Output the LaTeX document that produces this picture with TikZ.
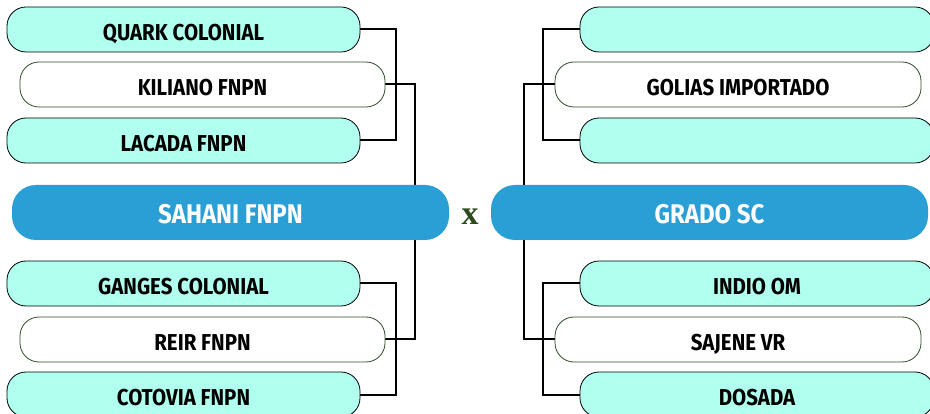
\documentclass[tikz,border=0pt]{standalone}
\usepackage{fontspec}
\setmainfont{Fira Sans}[FakeStretch=0.89]
\newfontfamily\xfont{Liberation Serif}
\definecolor{aquafill}{HTML}{B1FFEF}
\definecolor{bluefill}{HTML}{2A9FD6}
\definecolor{dkgreen}{HTML}{2E4D24}
\definecolor{xgreen}{HTML}{2E4A1E}
\pgfdeclarelayer{background}
\pgfsetlayers{background,main}
\tikzset{
  pill/.style={rectangle, rounded corners=19pt, minimum height=45pt, inner sep=0pt,
    text height=22pt, text depth=0pt,
    line width=0.8pt, font=\fontsize{23}{23}\selectfont\bfseries},
  aquapill/.style={pill, draw=black, fill=aquafill, minimum width=353pt},
  whitepill/.style={pill, draw=dkgreen, fill=white, minimum width=365pt},
  mainpill/.style={rectangle, rounded corners=24pt, minimum height=55pt, minimum width=437pt,
    text height=23pt, text depth=0pt,
    inner sep=0pt, fill=bluefill, text=white, font=\fontsize{27}{27}\selectfont\bfseries},
  link/.style={draw=black, line width=2pt},
}
\begin{document}
\begin{tikzpicture}[x=1pt,y=-1pt]
\useasboundingbox (0,0) rectangle (930,414);
% left side
\node[aquapill] (q) at (183.5,29.5) {QUARK COLONIAL};
\node[whitepill] (k) at (202.5,84.5) {KILIANO FNPN};
\node[aquapill] (l) at (183.5,140.5) {LACADA FNPN};
\node[mainpill] (s) at (230.5,212.5) {SAHANI FNPN};
\node[aquapill] (g) at (183.5,283.5) {GANGES COLONIAL};
\node[whitepill] (r) at (202.5,339.5) {REIR FNPN};
\node[aquapill] (c) at (183.5,394.5) {COTOVIA FNPN};
% right side
\node[aquapill, minimum width=354pt] (t1) at (757,29.5) {};
\node[whitepill, minimum width=366pt] (go) at (738,84.5) {GOLIAS IMPORTADO};
\node[aquapill, minimum width=354pt] (t3) at (757,140.5) {};
\node[mainpill] (gr) at (709.5,212.5) {GRADO SC};
\node[aquapill, minimum width=354pt] (i) at (757,283.5) {INDIO OM};
\node[whitepill, minimum width=366pt] (sv) at (738,339.5) {SAJENE VR};
\node[aquapill, minimum width=354pt] (d) at (757,394.5) {DOSADA};
% versus
\node[text=xgreen, font=\xfont\fontsize{34}{34}\selectfont\bfseries, inner sep=0pt] (vs) at (470,216.5) {x};
\begin{pgfonlayer}{background}
\draw[link] (q.east) -- ++(36,0) |- (l.east);
\draw[link] (k.east) -- ++(30,0) |- (r.east);
\draw[link] (g.east) -- ++(36,0) |- (c.east);
\draw[link] (t1.west) -- ++(-37,0) |- (t3.west);
\draw[link] (go.west) -- ++(-31,0) |- (sv.west);
\draw[link] (i.west) -- ++(-37,0) |- (d.west);
\end{pgfonlayer}
\end{tikzpicture}
\end{document}
